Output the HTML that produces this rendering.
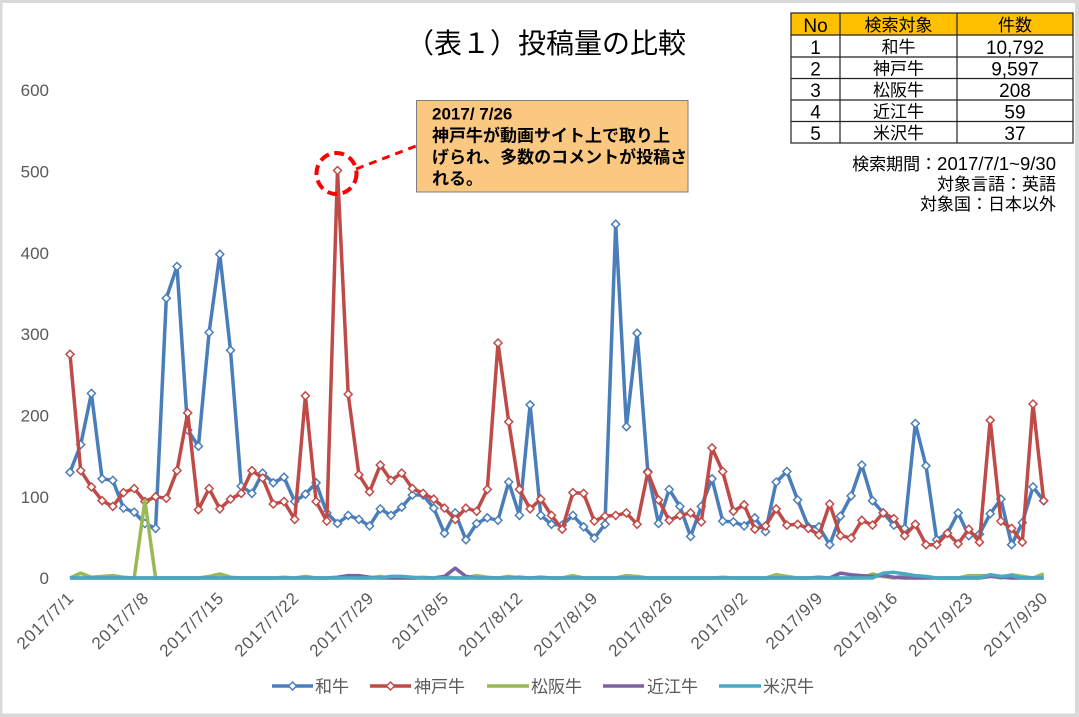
<!DOCTYPE html>
<html><head><meta charset="utf-8">
<style>
html,body{margin:0;padding:0;background:#d9d9d9;}
body{width:1079px;height:717px;overflow:hidden;position:relative;}
svg{position:absolute;left:0;top:0;}
text{font-family:"Liberation Sans","Noto Sans CJK JP",sans-serif;}
</style></head>
<body>
<svg width="1079" height="717" viewBox="0 0 1079 717" xmlns="http://www.w3.org/2000/svg">
<defs>
<marker id="mb" markerWidth="12" markerHeight="12" refX="6" refY="6" markerUnits="userSpaceOnUse" orient="0"><path d="M6,2 L10,6 L6,10 L2,6Z" fill="#fff" stroke="#4A7EBB" stroke-width="1.5"/></marker>
<marker id="mr" markerWidth="12" markerHeight="12" refX="6" refY="6" markerUnits="userSpaceOnUse" orient="0"><path d="M6,2 L10,6 L6,10 L2,6Z" fill="#fff" stroke="#BE4B48" stroke-width="1.5"/></marker>
</defs>
<rect x="2.5" y="3" width="1072.5" height="710.5" fill="#ffffff"/>

<!-- Title -->
<text x="546" y="53" text-anchor="middle" font-size="28" fill="#000">（表１）投稿量の比較</text>

<!-- Y axis labels -->
<g font-size="17" fill="#595959" text-anchor="end">
<text x="49" y="96">600</text>
<text x="49" y="177.5">500</text>
<text x="49" y="259">400</text>
<text x="49" y="340">300</text>
<text x="49" y="421.5">200</text>
<text x="49" y="503">100</text>
<text x="49" y="584">0</text>
</g>

<!-- X axis labels -->
<g font-size="17" fill="#595959" text-anchor="end" letter-spacing="0.8">
<text transform="translate(75,599) rotate(-45)">2017/7/1</text>
<text transform="translate(150,599) rotate(-45)">2017/7/8</text>
<text transform="translate(225,599) rotate(-45)">2017/7/15</text>
<text transform="translate(300,599) rotate(-45)">2017/7/22</text>
<text transform="translate(375,599) rotate(-45)">2017/7/29</text>
<text transform="translate(450,599) rotate(-45)">2017/8/5</text>
<text transform="translate(524,599) rotate(-45)">2017/8/12</text>
<text transform="translate(599,599) rotate(-45)">2017/8/19</text>
<text transform="translate(674,599) rotate(-45)">2017/8/26</text>
<text transform="translate(749,599) rotate(-45)">2017/9/2</text>
<text transform="translate(824,599) rotate(-45)">2017/9/9</text>
<text transform="translate(899,599) rotate(-45)">2017/9/16</text>
<text transform="translate(974,599) rotate(-45)">2017/9/23</text>
<text transform="translate(1049,599) rotate(-45)">2017/9/30</text>
</g>

<!-- 和牛 -->
<polyline fill="none" stroke="#4A7EBB" stroke-width="3.5" stroke-linejoin="round" marker-start="url(#mb)" marker-mid="url(#mb)" marker-end="url(#mb)" points="70,472.3 80.7,444.6 91.4,393.4 102.1,478.8 112.8,480.4 123.5,508.1 134.2,512.1 144.9,523.5 155.6,528.4 166.3,298.2 177,266.5 187.7,430 198.4,446.2 209.1,332.4 219.8,254.3 230.5,350.3 241.2,486.1 251.9,493.4 262.6,473.1 273.3,482.8 284,477.2 294.7,501.5 305.4,494.2 316.1,482.8 326.8,512.9 337.5,523.5 348.2,515.4 358.9,519.4 369.6,525.9 380.3,508.9 391,515.4 401.7,507.2 412.4,495 423.1,495 433.8,508.1 444.5,533.3 455.2,512.9 465.9,539.8 476.6,523.5 487.3,517.8 498,520.3 508.7,482 519.4,515.4 530.1,404.8 540.8,515.4 551.5,524.3 562.2,525.1 572.9,515.4 583.6,526.8 594.3,538.1 605,524.3 615.7,224.2 626.4,426.7 637.1,333.2 647.8,471.5 658.5,523.5 669.2,489.4 679.9,506.4 690.6,536.5 701.3,506.4 712,478.8 722.7,521.1 733.4,521.9 744.1,525.9 754.8,517.8 765.5,531.6 776.2,482 786.9,471.5 797.6,499.9 808.3,526.8 819,526.8 829.7,544.7 840.4,516.2 851.1,495.9 861.8,465 872.5,500.7 883.2,512.9 893.9,525.1 904.6,528.4 915.3,423.5 926,465.8 936.7,539.8 947.4,533.3 958.1,512.9 968.8,535.7 979.5,534.1 990.2,513.7 1000.9,499.1 1011.6,544.7 1022.3,522.7 1033,486.9 1043.7,500.7"/>

<!-- 神戸牛 -->
<polyline fill="none" stroke="#BE4B48" stroke-width="3.5" stroke-linejoin="round" marker-start="url(#mr)" marker-mid="url(#mr)" marker-end="url(#mr)" points="70,354.3 80.7,470.6 91.4,486.9 102.1,500.7 112.8,506.4 123.5,492.6 134.2,488.5 144.9,501.5 155.6,496.7 166.3,498.3 177,470.6 187.7,412.9 198.4,509.7 209.1,488.5 219.8,508.9 230.5,499.1 241.2,493.4 251.9,470.6 262.6,478 273.3,504 284,501.5 294.7,519.4 305.4,395.8 316.1,501.5 326.8,521.1 337.5,170.5 348.2,394.2 358.9,474.7 369.6,491.8 380.3,465 391,480.4 401.7,473.1 412.4,488.5 423.1,493.4 433.8,499.1 444.5,508.1 455.2,519.4 465.9,508.1 476.6,511.3 487.3,489.4 498,343 508.7,421.8 519.4,489.4 530.1,508.9 540.8,499.1 551.5,515.4 562.2,529.2 572.9,492.6 583.6,493.4 594.3,521.1 605,516.2 615.7,515.4 626.4,512.9 637.1,524.3 647.8,472.3 658.5,499.9 669.2,520.3 679.9,515.4 690.6,512.9 701.3,521.9 712,447.9 722.7,471.5 733.4,511.3 744.1,504.8 754.8,529.2 765.5,525.9 776.2,508.9 786.9,525.1 797.6,524.3 808.3,528.4 819,534.9 829.7,504 840.4,535.7 851.1,538.1 861.8,520.3 872.5,525.1 883.2,512.9 893.9,518.6 904.6,535.7 915.3,524.3 926,544.7 936.7,544.7 947.4,533.3 958.1,543.8 968.8,529.2 979.5,542.2 990.2,420.2 1000.9,521.1 1011.6,528.4 1022.3,542.2 1033,404 1043.7,500.7"/>

<!-- 松阪牛 -->
<polyline fill="none" stroke="#98B954" stroke-width="3.5" stroke-linejoin="round" points="70,578 80.7,573.1 91.4,577.2 102.1,576.4 112.8,575.6 123.5,577.2 134.2,578 144.9,500.7 155.6,578 198.4,578 209.1,576.4 219.8,573.9 230.5,577.2 241.2,578 273.3,578 284,577.2 294.7,578 305.4,576.4 316.1,578 337.5,578 348.2,577.2 358.9,578 369.6,578 380.3,576.4 391,578 412.4,578 423.1,577.2 433.8,578 444.5,576.4 455.2,578 465.9,578 476.6,575.6 487.3,577.2 498,578 508.7,576.4 519.4,578 562.2,578 572.9,575.6 583.6,578 615.7,578 626.4,575.6 637.1,576.4 647.8,578 712,578 722.7,577.2 733.4,578 765.5,578 776.2,574.7 786.9,576.4 797.6,578 861.8,578 872.5,573.9 883.2,576.4 893.9,578 904.6,575.6 915.3,578 926,577.2 936.7,578 958.1,578 968.8,575.6 979.5,575.6 990.2,575.6 1000.9,578 1011.6,574.7 1022.3,576.4 1033,578 1043.7,573.9"/>

<!-- 近江牛 -->
<polyline fill="none" stroke="#7D60A0" stroke-width="3.5" stroke-linejoin="round" points="70,578 326.8,578 337.5,577.2 348.2,575.6 358.9,575.6 369.6,577.2 380.3,578 433.8,578 444.5,576.4 455.2,568.2 465.9,576.4 476.6,578 508.7,578 519.4,577.2 530.1,578 540.8,577.2 551.5,578 808.3,578 819,577.2 829.7,578 840.4,573.1 851.1,574.7 861.8,575.6 872.5,576.4 883.2,575.6 893.9,577.2 904.6,578 979.5,578 990.2,576.4 1000.9,577.2 1011.6,578 1043.7,578"/>

<!-- 米沢牛 -->
<polyline fill="none" stroke="#46AAC5" stroke-width="3.5" stroke-linejoin="round" points="70,578 380.3,578 391,576.4 401.7,576.4 412.4,577.2 423.1,578 872.5,578 883.2,573.1 893.9,572.3 904.6,573.9 915.3,575.6 926,576.4 936.7,578 979.5,578 990.2,574.7 1000.9,576.4 1011.6,575.6 1022.3,578 1043.7,578"/>

<!-- Annotation -->
<ellipse cx="336.5" cy="173.5" rx="20" ry="20.5" fill="none" stroke="#FF0000" stroke-width="4" stroke-dasharray="10 5.5"/>
<line x1="356" y1="169" x2="416" y2="146" stroke="#FF0000" stroke-width="3" stroke-dasharray="8 6"/>
<rect x="416.5" y="100.5" width="271.5" height="91.5" fill="#FAC880" stroke="#7F7F7F" stroke-width="1"/>
<g font-size="17" font-weight="bold" fill="#000">
<text x="432" y="119.5">2017/ 7/26</text>
<text x="432" y="141.5">神戸牛が動画サイト上で取り上</text>
<text x="432" y="163">げられ、多数のコメントが投稿さ</text>
<text x="432" y="184.5">れる。</text>
</g>

<!-- Table -->
<rect x="791" y="13" width="282" height="22" fill="#FFC000"/>
<g stroke="#222" stroke-width="1.2" fill="none">
<rect x="791" y="13" width="282" height="130"/>
<line x1="791" y1="35" x2="1073" y2="35"/>
<line x1="791" y1="57" x2="1073" y2="57"/>
<line x1="791" y1="78.5" x2="1073" y2="78.5"/>
<line x1="791" y1="100" x2="1073" y2="100"/>
<line x1="791" y1="121.5" x2="1073" y2="121.5"/>
<line x1="840" y1="13" x2="840" y2="143"/>
<line x1="957" y1="13" x2="957" y2="143"/>
</g>
<g fill="#000" text-anchor="middle">
<text x="815.5" y="32" font-size="19">No</text>
<text x="898.5" y="31" font-size="17">検索対象</text>
<text x="1015" y="31" font-size="17">件数</text>
<text x="815.5" y="54" font-size="19">1</text>
<text x="898.5" y="53" font-size="17">和牛</text>
<text x="1015" y="54" font-size="19">10,792</text>
<text x="815.5" y="75.5" font-size="19">2</text>
<text x="898.5" y="74.5" font-size="17">神戸牛</text>
<text x="1015" y="75.5" font-size="19">9,597</text>
<text x="815.5" y="97" font-size="19">3</text>
<text x="898.5" y="96" font-size="17">松阪牛</text>
<text x="1015" y="97" font-size="19">208</text>
<text x="815.5" y="118.5" font-size="19">4</text>
<text x="898.5" y="117.5" font-size="17">近江牛</text>
<text x="1015" y="118.5" font-size="19">59</text>
<text x="815.5" y="140" font-size="19">5</text>
<text x="898.5" y="139" font-size="17">米沢牛</text>
<text x="1015" y="140" font-size="19">37</text>
</g>
<g fill="#000" text-anchor="end" font-size="17">
<text x="1056" y="170">検索期間：<tspan font-size="18.5">2017/7/1~9/30</tspan></text>
<text x="1056" y="190">対象言語：英語</text>
<text x="1056" y="210">対象国：日本以外</text>
</g>

<!-- Legend -->
<g stroke-width="3.5">
<line x1="272" y1="686" x2="313" y2="686" stroke="#4A7EBB"/>
<path d="M292.5,682 L296.5,686 L292.5,690 L288.5,686Z" fill="#fff" stroke="#4A7EBB" stroke-width="1.5"/>
<line x1="370" y1="686" x2="411" y2="686" stroke="#BE4B48"/>
<path d="M390.5,682 L394.5,686 L390.5,690 L386.5,686Z" fill="#fff" stroke="#BE4B48" stroke-width="1.5"/>
<line x1="487" y1="686" x2="529" y2="686" stroke="#98B954"/>
<line x1="603" y1="686" x2="644" y2="686" stroke="#7D60A0"/>
<line x1="719" y1="686" x2="761" y2="686" stroke="#46AAC5"/>
</g>
<g font-size="17" fill="#595959">
<text x="315" y="692.5">和牛</text>
<text x="414" y="692.5">神戸牛</text>
<text x="531" y="692.5">松阪牛</text>
<text x="647" y="692.5">近江牛</text>
<text x="763" y="692.5">米沢牛</text>
</g>
</svg>
</body></html>
